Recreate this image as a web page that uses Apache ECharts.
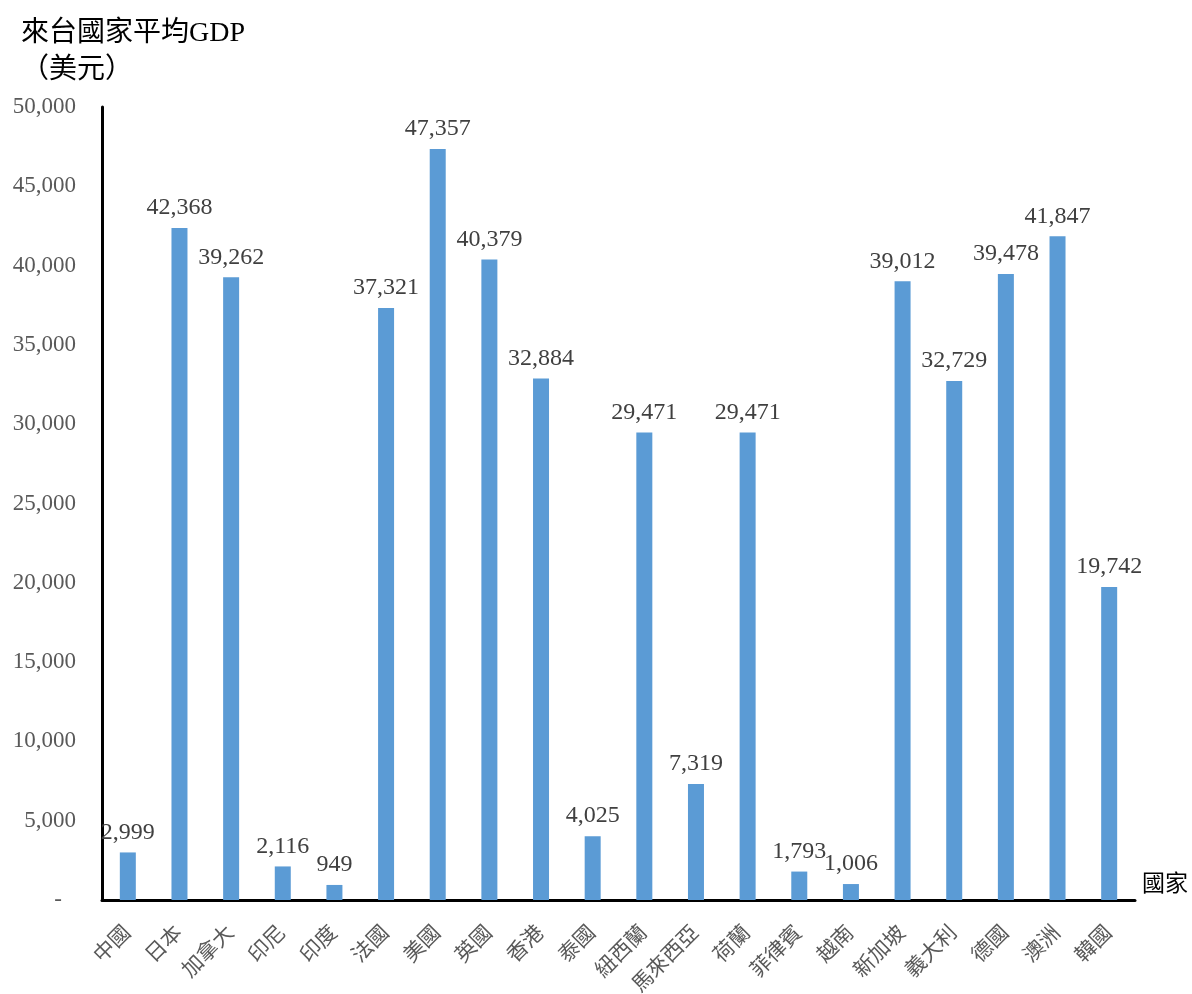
<!DOCTYPE html>
<html>
<head>
<meta charset="utf-8">
<script src="https://cdn.jsdelivr.net/npm/echarts@6/dist/echarts.min.js"></script>
<style>
html,body{margin:0;padding:0;background:#fff;}
#chart{width:1192px;height:994px;}
</style>
</head>
<body>
<div id="chart"></div>
<script>
// 來台國家平均 GDP（美元）
const countries = ['中國','日本','加拿大','印尼','印度','法國','美國','英國','香港','泰國','紐西蘭','馬來西亞','荷蘭','菲律賓','越南','新加坡','義大利','德國','澳洲','韓國'];
const gdpValues = [2999,42368,39262,2116,949,37321,47357,40379,32884,4025,29471,7319,29471,1793,1006,39012,32729,39478,41847,19742];
const yTicks = [0,5000,10000,15000,20000,25000,30000,35000,40000,45000,50000];

const serif = "'Liberation Serif','Times New Roman',serif";
const cjk = "'Liberation Serif','Noto Sans CJK TC',serif";
const fmt = v => v.toLocaleString('en-US');

const chart = echarts.init(document.getElementById('chart'));
chart.setOption({
  backgroundColor: '#ffffff',
  animation: false,
  title: {
    text: '來台國家平均GDP\n（美元）',
    left: 16,
    top: 10,
    textStyle: { fontFamily: cjk, fontSize: 28, fontWeight: 'normal', color: '#000', lineHeight: 37 }
  },
  grid: { left: 102, right: 57, top: 107, bottom: 94, containLabel: false, outerBoundsMode: 'none' },
  xAxis: {
    type: 'category',
    data: countries,
    name: '國家',
    nameLocation: 'end',
    nameGap: 7,
    nameTextStyle: { fontFamily: cjk, fontSize: 23, color: '#000', verticalAlign: 'bottom', padding: [0,0,4,0] },
    axisLine: { lineStyle: { color: '#000', width: 3 } },
    axisTick: { show: false },
    axisLabel: { rotate: 45, margin: 30, fontFamily: cjk, fontSize: 21, color: '#595959', interval: 0 }
  },
  yAxis: {
    type: 'value',
    min: yTicks[0],
    max: yTicks[yTicks.length - 1],
    interval: 5000,
    axisLine: { show: true, lineStyle: { color: '#000', width: 3 } },
    axisTick: { show: false },
    splitLine: { show: false },
    axisLabel: {
      margin: 26,
      fontFamily: serif,
      fontSize: 23,
      color: '#595959',
      formatter: v => v === 0 ? '{z|-}' : fmt(v),
      rich: { z: { fontFamily: serif, fontSize: 23, color: '#595959', padding: [0, 14, 0, 0] } }
    }
  },
  series: [{
    type: 'bar',
    data: gdpValues,
    barWidth: 16,
    itemStyle: { color: '#5B9BD5' },
    label: {
      show: true,
      position: 'top',
      distance: 8,
      fontFamily: serif,
      fontSize: 24,
      color: '#404040',
      formatter: p => fmt(p.value)
    }
  }]
});
</script>
</body>
</html>
